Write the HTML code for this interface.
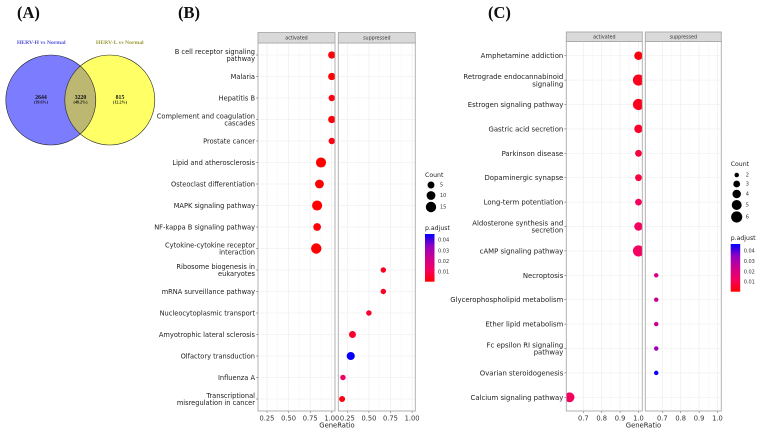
<!DOCTYPE html>
<html lang="en">
<head>
<meta charset="utf-8">
<title>HERV pathway enrichment figure</title>
<style>
html,body{margin:0;padding:0;background:#fff;width:760px;height:435px;overflow:hidden}
svg{display:block;filter:blur(0.35px)}
text{font-family:"DejaVu Sans","Liberation Sans",sans-serif}
.serif{font-family:"Liberation Serif",serif;font-weight:bold}
</style>
</head>
<body>
<svg id="figure" xmlns="http://www.w3.org/2000/svg" width="760" height="435" viewBox="0 0 760 435">
  <defs>
    <clipPath id="venn-left-clip"><circle cx="50.8" cy="100" r="45"/></clipPath>
    <linearGradient id="padj-gradient" x1="0" y1="1" x2="0" y2="0">
      <stop offset="0" stop-color="#ff0000"/>
      <stop offset="0.25" stop-color="#f50060"/>
      <stop offset="0.5" stop-color="#cc0090"/>
      <stop offset="0.75" stop-color="#9000c0"/>
      <stop offset="1" stop-color="#0000ff"/>
    </linearGradient>
  </defs>

  <text class="serif" x="17" y="18" font-size="16.5" fill="#111">(A)</text>
  <text class="serif" x="178" y="18" font-size="16.5" fill="#111">(B)</text>
  <text class="serif" x="488" y="18" font-size="16.5" fill="#111">(C)</text>

  <g>
    <text class="serif" x="41.2" y="44" font-size="5.7" text-anchor="middle" fill="#5050d8">HERV-H vs Normal</text>
    <text class="serif" x="119.8" y="44" font-size="5.7" text-anchor="middle" fill="#99993a">HERV-L vs Normal</text>
    <circle cx="50.8" cy="100" r="45" fill="#7c7cff"/>
    <circle cx="109.8" cy="100" r="45" fill="#ffff66"/>
    <circle cx="109.8" cy="100" r="45" fill="#bcb872" clip-path="url(#venn-left-clip)"/>
    <circle cx="50.8" cy="100" r="45" fill="none" stroke="#222" stroke-width="0.6"/>
    <circle cx="109.8" cy="100" r="45" fill="none" stroke="#222" stroke-width="0.6"/>
    <text class="serif" x="41" y="99" font-size="5.8" text-anchor="middle" fill="#111">2644</text>
    <text class="serif" x="41" y="103.5" font-size="4.1" text-anchor="middle" fill="#111">(39.6%)</text>
    <text class="serif" x="80.5" y="99" font-size="5.8" text-anchor="middle" fill="#111">3220</text>
    <text class="serif" x="80.5" y="103.5" font-size="4.1" text-anchor="middle" fill="#111">(48.2%)</text>
    <text class="serif" x="120" y="99" font-size="5.8" text-anchor="middle" fill="#111">815</text>
    <text class="serif" x="120" y="103.5" font-size="4.1" text-anchor="middle" fill="#111">(12.2%)</text>
  </g>

  <g id="chart-b"></g>
  <g id="chart-c"></g>
</svg>

<script>
// ---- Chart B data ----
const bCategories = ["B cell receptor signaling\npathway","Malaria","Hepatitis B","Complement and coagulation\ncascades","Prostate cancer","Lipid and atherosclerosis","Osteoclast differentiation","MAPK signaling pathway","NF-kappa B signaling pathway","Cytokine-cytokine receptor\ninteraction","Ribosome biogenesis in\neukaryotes","mRNA surveillance pathway","Nucleocytoplasmic transport","Amyotrophic lateral sclerosis","Olfactory transduction","Influenza A","Transcriptional\nmisregulation in cancer"];
const bFacets = [0,0,0,0,0,0,0,0,0,0,1,1,1,1,1,1,1];
const bRatios = [1,1,1,1,1,0.875,0.857,0.83,0.83,0.82,0.667,0.667,0.5,0.31,0.29,0.2,0.19];
const bCounts = [6,6,4,6,4,14,10,14,7,15,2,2,2,5,8,2,3];
const bPadj = [0.002,0.001,0.003,0.002,0.003,0.001,0.001,0.001,0.002,0.001,0.005,0.005,0.006,0.006,0.045,0.014,0.003];
const bTicks = [0.25,0.5,0.75,1];
const bTickLabels = ["0.25","0.50","0.75","1.00"];
const bLegendCounts = [5,10,15];
const bLegendPadj = [0.01,0.02,0.03,0.04];

// ---- Chart C data ----
const cCategories = ["Amphetamine addiction","Retrograde endocannabinoid\nsignaling","Estrogen signaling pathway","Gastric acid secretion","Parkinson disease","Dopaminergic synapse","Long-term potentiation","Aldosterone synthesis and\nsecretion","cAMP signaling pathway","Necroptosis","Glycerophospholipid metabolism","Ether lipid metabolism","Fc epsilon RI signaling\npathway","Ovarian steroidogenesis","Calcium signaling pathway"];
const cFacets = [0,0,0,0,0,0,0,0,0,1,1,1,1,1,0];
const cRatios = [1,1,1,1,1,1,1,1,1,0.667,0.667,0.667,0.667,0.667,0.625];
const cCounts = [4,6,6,4,3,3,3,4,6,2,2,2,2,2,5];
const cPadj = [0.002,0.004,0.004,0.006,0.008,0.008,0.012,0.012,0.012,0.021,0.024,0.024,0.033,0.046,0.012];
const cTicks = [0.7,0.8,0.9,1];
const cTickLabels = ["0.7","0.8","0.9","1.0"];
const cLegendCounts = [2,3,4,5,6];
const cLegendPadj = [0.01,0.02,0.03,0.04];

const facetNames = ["activated","suppressed"];
const NS = "http://www.w3.org/2000/svg";
const colorStops = [[255,0,0],[245,0,96],[204,0,144],[144,0,192],[0,0,255]];

function svgEl(parent, tag, attrs, text) {
  const el = document.createElementNS(NS, tag);
  for (const k in attrs) el.setAttribute(k, attrs[k]);
  if (text !== undefined) el.textContent = text;
  parent.appendChild(el);
  return el;
}

function padjColor(v, lo, hi) {
  const t = Math.max(0, Math.min(1, (v - lo) / (hi - lo))) * (colorStops.length - 1);
  const i = Math.min(colorStops.length - 2, Math.floor(t));
  const f = t - i;
  const c = colorStops[i].map((a, j) => Math.round(a + (colorStops[i + 1][j] - a) * f));
  return "rgb(" + c.join(",") + ")";
}

function drawChart(cfg) {
  const root = document.getElementById(cfg.id);
  const n = cfg.categories.length;
  const yPos = i => cfg.rowTop + i * (cfg.rowBottom - cfg.rowTop) / (n - 1);
  const xPos = (v, f) => cfg.panelX[f] + (v - cfg.domain[0]) / (cfg.domain[1] - cfg.domain[0]) * cfg.panelW;
  const legendY = v => cfg.barBottom - (v - cfg.padjRange[0]) / (cfg.padjRange[1] - cfg.padjRange[0]) * (cfg.barBottom - cfg.barTop);
  const radius = c => Math.sqrt(Math.max(3, cfg.sizeA + cfg.sizeB * c));

  facetNames.forEach((name, f) => {
    const px = cfg.panelX[f];
    const w = cfg.panelW;
    const panelG = svgEl(root, "g", {});
    
    

    const clipId = cfg.id + "-clip-" + f;
    const defs = svgEl(panelG, "defs", {});
    const clip = svgEl(defs, "clipPath", {id: clipId});
    svgEl(clip, "rect", {x: px, y: cfg.panelTop, width: w, height: cfg.panelBottom - cfg.panelTop});

    // minor vertical grid
    cfg.ticks.slice(0, -1).forEach((t, i) => {
      const xm = xPos((t + cfg.ticks[i + 1]) / 2, f);
      const g = svgEl(panelG, "line", {x1: xm, x2: xm, y1: cfg.panelTop, y2: cfg.panelBottom, stroke: "#f6f6f6", "stroke-width": 0.5});
      
      
    });
    // major vertical grid and ticks
    cfg.ticks.forEach((t, i) => {
      const x = xPos(t, f);
      const g = svgEl(panelG, "line", {x1: x, x2: x, y1: cfg.panelTop, y2: cfg.panelBottom, stroke: "#eeeeee", "stroke-width": 0.7});
      
      
      const tk = svgEl(panelG, "line", {x1: x, x2: x, y1: cfg.panelBottom, y2: cfg.panelBottom + 2, stroke: "#555", "stroke-width": 0.5});
      
      
      const lb = svgEl(panelG, "text", {x: x, y: cfg.panelBottom + 9.5, "font-size": 6.7, "text-anchor": "middle", fill: "#333"}, cfg.tickLabels[i]);
      
      
    });
    // horizontal grid
    cfg.categories.forEach((c, i) => {
      const g = svgEl(panelG, "line", {x1: px, x2: px + w, y1: yPos(i), y2: yPos(i), stroke: "#f0f0f0", "stroke-width": 0.7});
      
      
    });
    // points
    cfg.categories.forEach((c, i) => {
      if (cfg.facets[i] !== f) return;
      const dot = svgEl(panelG, "circle", {cx: xPos(cfg.ratios[i], f), cy: yPos(i), r: radius(cfg.counts[i]), fill: padjColor(cfg.padj[i], cfg.colorRange[0], cfg.colorRange[1]), "clip-path": "url(#" + clipId + ")"});
      
      
    });
    // border
    const border = svgEl(panelG, "rect", {x: px, y: cfg.panelTop, width: w, height: cfg.panelBottom - cfg.panelTop, fill: "none", stroke: "#aaa", "stroke-width": 0.9});
    
    
    // strip
    const strip = svgEl(panelG, "rect", {x: px, y: cfg.stripTop, width: w, height: cfg.panelTop - cfg.stripTop, fill: "#d9d9d9", stroke: "#aaa", "stroke-width": 0.9});
    
    
    const stripText = svgEl(panelG, "text", {x: px + w / 2, y: (cfg.stripTop + cfg.panelTop) / 2 + 1.7, "font-size": 4.8, "text-anchor": "middle", fill: "#333"}, name);
    
    
  });

  // y axis
  cfg.categories.forEach((c, i) => {
    const y = yPos(i);
    const tk = svgEl(root, "line", {x1: cfg.panelX[0] - 2, x2: cfg.panelX[0], y1: y, y2: y, stroke: "#555", "stroke-width": 0.5});
    
    
    const lines = c.split("\n");
    lines.forEach((ln, k) => {
      const ty = y + 2.5 + (k - (lines.length - 1) / 2) * 7.4;
      const t = svgEl(root, "text", {x: cfg.panelX[0] - 3, y: ty, "font-size": cfg.labelSize, "text-anchor": "end", fill: "#222"}, ln);
      
      
    });
  });

  // x title
  const xt = svgEl(root, "text", {x: cfg.xTitleX, y: cfg.panelBottom + 16.5, "font-size": 6.8, "text-anchor": "middle", fill: "#222"}, "GeneRatio");
  
  

  // count legend
  const ct = svgEl(root, "text", {x: cfg.legendX, y: cfg.countTitleY, "font-size": 6.2, fill: "#222"}, "Count");
  
  
  cfg.legendCounts.forEach((c, i) => {
    const cy = cfg.countYs[i];
    const d = svgEl(root, "circle", {cx: cfg.legendX + 6, cy: cy, r: radius(c), fill: "#000"});
    
    
    const l = svgEl(root, "text", {x: cfg.legendX + 15, y: cy + 1.7, "font-size": 5, fill: "#333"}, String(c));
    
    
  });

  // colour legend
  const pt = svgEl(root, "text", {x: cfg.legendX, y: cfg.barTop - 4, "font-size": 6.2, fill: "#222"}, "p.adjust");
  
  
  const bar = svgEl(root, "rect", {x: cfg.legendX, y: cfg.barTop, width: 9.5, height: cfg.barBottom - cfg.barTop, fill: "url(#padj-gradient)"});
  
  
  cfg.legendPadj.forEach(v => {
    const t = svgEl(root, "text", {x: cfg.legendX + 13, y: legendY(v) + 1.7, "font-size": 5, fill: "#333"}, v.toFixed(2));
    
    
  });
}

drawChart({
  id: "chart-b", categories: bCategories, facets: bFacets, ratios: bRatios, counts: bCounts, padj: bPadj,
  ticks: bTicks, tickLabels: bTickLabels, legendCounts: bLegendCounts, legendPadj: bLegendPadj,
  panelX: [258, 338.3], panelW: 77, domain: [0.146, 1.037],
  stripTop: 32.5, panelTop: 43, panelBottom: 411, rowTop: 55, rowBottom: 399,
  labelSize: 6.65, xTitleX: 337, sizeA: 4.5, sizeB: 1.5,
  legendX: 425, countTitleY: 177, countYs: [185, 195.5, 207],
  barTop: 234, barBottom: 281.7, padjRange: [0.0009, 0.0456], colorRange: [0.0009, 0.0456]
});

drawChart({
  id: "chart-c", categories: cCategories, facets: cFacets, ratios: cRatios, counts: cCounts, padj: cPadj,
  ticks: cTicks, tickLabels: cTickLabels, legendCounts: cLegendCounts, legendPadj: cLegendPadj,
  panelX: [566.3, 645.3], panelW: 76, domain: [0.6076, 1.0207],
  stripTop: 32, panelTop: 41.5, panelBottom: 411, rowTop: 55.7, rowBottom: 397.3,
  labelSize: 6.9, xTitleX: 643.5, sizeA: -8, sizeB: 6.5,
  legendX: 730.7, countTitleY: 166, countYs: [175, 184, 194, 205, 217],
  barTop: 244, barBottom: 291.7, padjRange: [0.0006, 0.0468], colorRange: [0.0006, 0.0468]
});
</script>
</body>
</html>
